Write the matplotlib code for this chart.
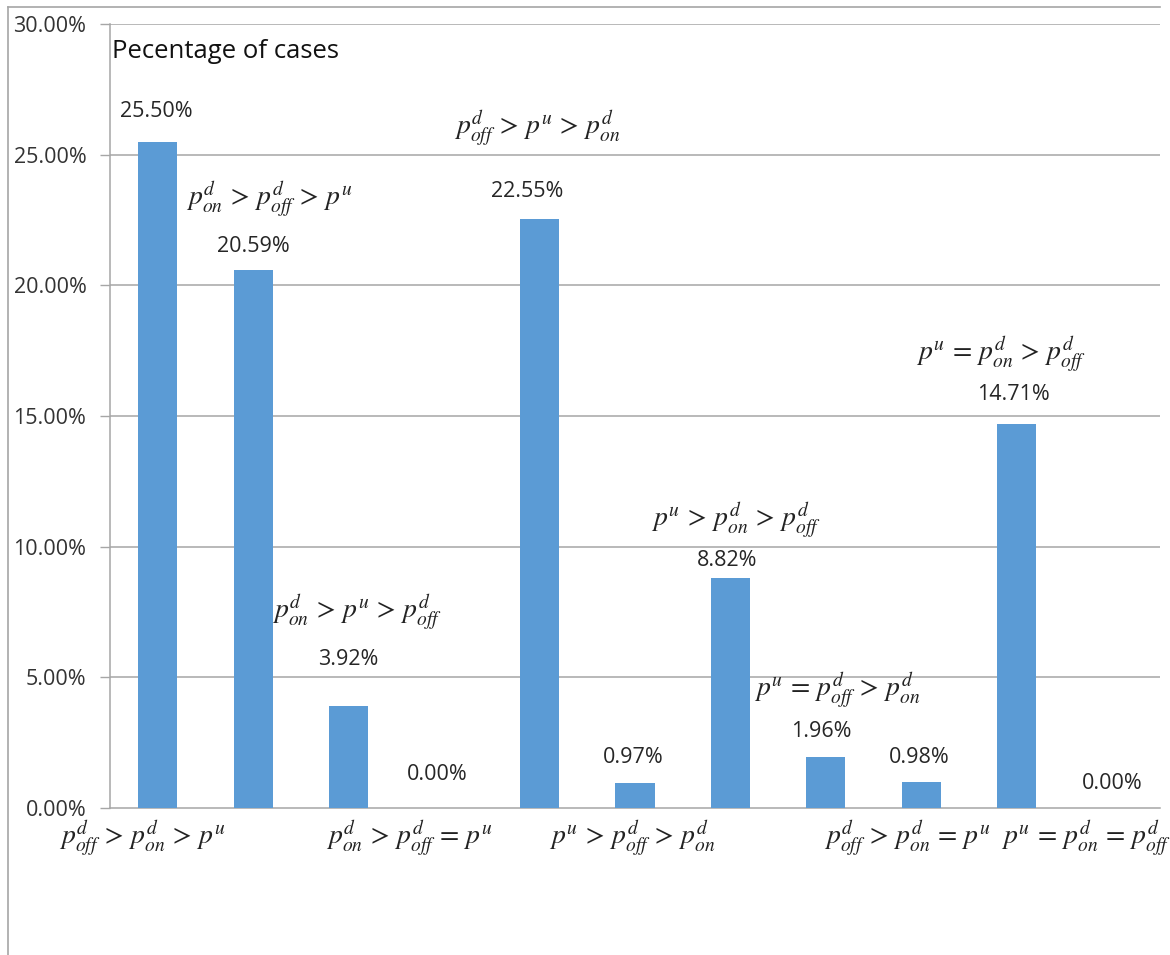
import matplotlib
matplotlib.use("Agg")
import matplotlib.pyplot as plt
from matplotlib.lines import Line2D

# ---- data ----
categories = [
    r"$p_{off}^{d}\,>\,p_{on}^{d}\,>\,p^{u}$",
    r"$p_{on}^{d}\,>\,p_{off}^{d}\,>\,p^{u}$",
    r"$p_{on}^{d}\,>\,p^{u}\,>\,p_{off}^{d}$",
    r"$p_{on}^{d}\,>\,p_{off}^{d}\,=\,p^{u}$",
    r"$p_{off}^{d}\,>\,p^{u}\,>\,p_{on}^{d}$",
    r"$p^{u}\,>\,p_{off}^{d}\,>\,p_{on}^{d}$",
    r"$p^{u}\,>\,p_{on}^{d}\,>\,p_{off}^{d}$",
    r"$p^{u}\,=\,p_{off}^{d}\,>\,p_{on}^{d}$",
    r"$p_{off}^{d}\,>\,p_{on}^{d}\,=\,p^{u}$",
    r"$p^{u}\,=\,p_{on}^{d}\,>\,p_{off}^{d}$",
    r"$p^{u}\,=\,p_{on}^{d}\,=\,p_{off}^{d}$",
]
values = [25.50, 20.59, 3.92, 0.00, 22.55, 0.97, 8.82, 1.96, 0.98, 14.71, 0.00]
value_labels = ["25.50%", "20.59%", "3.92%", "0.00%", "22.55%", "0.97%",
                "8.82%", "1.96%", "0.98%", "14.71%", "0.00%"]
yticks = [0, 5, 10, 15, 20, 25, 30]
ytick_labels = ["0.00%", "5.00%", "10.00%", "15.00%", "20.00%", "25.00%", "30.00%"]
title_text = "Pecentage of cases"

# ---- layout (positions of annotation texts, in data units) ----
cat_label_pos = [(0.34, -1.15), (1.67, 23.3), (2.59, 7.5), (3.14, -1.15),
                 (4.48, 26.0), (5.47, -1.15), (6.56, 11.0), (7.62, 4.5),
                 (8.35, -1.15), (9.33, 17.35), (10.22, -1.15)]
val_label_dx = [-0.02, 0.0, 0.0, -0.07, -0.13, -0.02, -0.03, -0.05, -0.02, -0.04, 0.0]
val_label_dy = [1.15, 0.9, 1.75, 1.3, 1.05, 0.95, 0.65, 0.95, 0.95, 1.1, 0.95]

plt.rcParams["mathtext.fontset"] = "stix"

fig = plt.figure(figsize=(11.7, 9.55), dpi=100)
ax = fig.add_axes([110 / 1170, 147 / 955, 1050 / 1170, 784 / 955])

bar_color = "#5B9BD5"
grid_color = "#A6A6A6"
xs = [i + 0.5 for i in range(len(values))]
ax.bar(xs, values, width=0.41, color=bar_color, zorder=3)

ax.set_xlim(0, len(values))
ax.set_ylim(0, 30)
ax.set_yticks(yticks)
ax.set_yticklabels(ytick_labels, fontsize=15.5, family="Open Sans", color="#333333")
ax.set_xticks([])
ax.tick_params(axis="y", length=7, width=1, color=grid_color, pad=10)
for t in yticks[1:]:
    ax.axhline(t, color=grid_color, lw=1.1, zorder=1)
for s in ["top", "right"]:
    ax.spines[s].set_visible(False)
ax.spines["left"].set_color(grid_color)
ax.spines["bottom"].set_color(grid_color)
ax.spines["left"].set_linewidth(1.1)
ax.spines["bottom"].set_linewidth(1.1)

for x, v, lab, dx, dy in zip(xs, values, value_labels, val_label_dx, val_label_dy):
    ax.text(x + dx, v + dy, lab, ha="center", va="center", fontsize=15.5,
            family="Open Sans", color="#262626", zorder=4)

for lab, (px, py) in zip(categories, cat_label_pos):
    ax.text(px, py, lab, ha="center", va="center", fontsize=20,
            color="#222222", zorder=5, clip_on=False)

ax.text(0.02, 28.95, title_text, ha="left", va="center", fontsize=18.5,
        family="Open Sans", color="#111111")

# partial outer border (top and left)
fig.add_artist(Line2D([8 / 1170, 1160 / 1170], [1 - 7 / 955, 1 - 7 / 955],
                      transform=fig.transFigure, color=grid_color, lw=1.2))
fig.add_artist(Line2D([8 / 1170, 8 / 1170], [0, 1 - 7 / 955],
                      transform=fig.transFigure, color=grid_color, lw=1.2))

fig.savefig("out.png", dpi=100, facecolor="white")
